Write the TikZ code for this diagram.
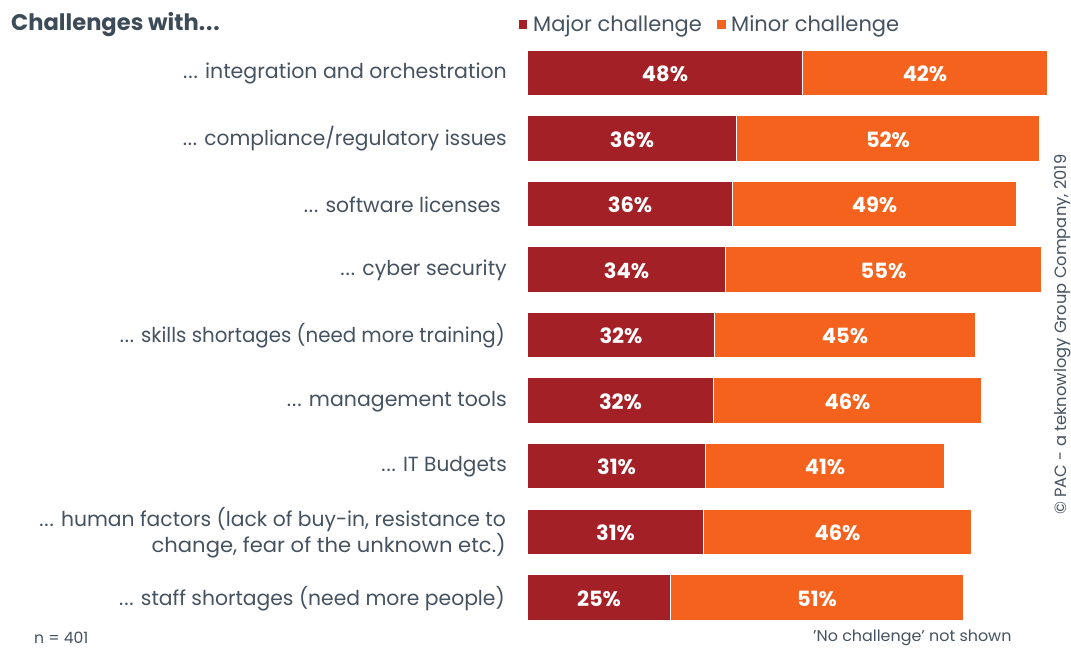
\documentclass[tikz,border=0pt]{standalone}
\usepackage{fontspec}
\setmainfont{Poppins}[Ligatures=NoCommon]
\definecolor{maj}{HTML}{A32027}
\definecolor{mnr}{HTML}{F4621D}
\definecolor{txt}{HTML}{45525F}
\definecolor{head}{HTML}{3D4A57}
\newcommand{\ddd}{.\kern0.9pt.\kern0.9pt.}
\newcommand{\sx}[2]{\scalebox{#1}[1]{#2}}
\tikzset{
  lbl/.style={anchor=east,align=right,text=txt,inner sep=0pt,font=\fontsize{20.5}{26}\selectfont},
  barbox/.style={anchor=north west,inner sep=0pt,outer sep=0pt,text=white,text height=17pt,text depth=0pt,font=\fontsize{21}{24}\selectfont\bfseries},
  small/.style={anchor=west,inner sep=0pt,text=txt,font=\fontsize{15.6}{18}\selectfont},
  legendtxt/.style={anchor=west,inner sep=0pt,text=txt,font=\fontsize{21}{24}\selectfont},
}
\begin{document}
\begin{tikzpicture}[x=1pt,y=-1pt]
\useasboundingbox (0,0) rectangle (1071,648);
\node[anchor=west,inner sep=0pt,text=head,font=\fontsize{22.6}{26}\selectfont\bfseries] (title) at (11,25) {Challenges with\ddd};
\fill[maj] (519,20) rectangle (527,29);
\node[legendtxt] (lmaj) at (533,26) {Major challenge};
\fill[mnr] (717,20) rectangle (726,29);
\node[legendtxt] (lmin) at (731,26) {Minor challenge};
\foreach \n/\t/\b/\s/\e/\p/\q in {
 1/51/95/802/1047/48/42,
 2/116/161/736/1039/36/52,
 3/182/226/732/1016/36/49,
 4/247/292/725/1041/34/55,
 5/313/357/714/975/32/45,
 6/378/423/713/981/32/46,
 7/444/488/705/944/31/41,
 8/510/554/703/971/31/46,
 9/575/620/670/963/25/51}{
  \pgfmathsetmacro{\wa}{\s-528}
  \pgfmathsetmacro{\wb}{\e-\s-1}
  \pgfmathsetmacro{\hh}{\b-\t}
  \node[barbox,fill=maj,minimum width=\wa pt,minimum height=\hh pt] (a\n) at (528,\t) {\p\%};
  \node[barbox,fill=mnr,minimum width=\wb pt,minimum height=\hh pt] (b\n) at (\s+1,\t) {\q\%};
}
\node[lbl] (c1) at (507,73) {\ddd{} integration and orchestration};
\node[lbl] (c2) at (507,139) {\sx{0.985}{\ddd{} compliance/regulatory issues}};
\node[lbl] (c3) at (501,205) {\sx{0.99}{\ddd{} software licenses}};
\node[lbl] (c4) at (507,270) {\ddd{} cyber security};
\node[lbl] (c5) at (505,336) {\sx{0.965}{\ddd{} skills shortages (need more training)}};
\node[lbl] (c6) at (507,402) {\ddd{} management tools};
\node[lbl] (c7) at (507,467) {\sx{0.98}{\ddd{} IT Budgets}};
\node[lbl] (c8) at (506,533) {\sx{0.99}{\ddd{} human factors (lack of buy-in, resistance to}\\\sx{1.03}{change, fear of the unknown etc.)}};
\node[lbl] (c9) at (505,599) {\sx{0.99}{\ddd{} staff shortages (need more people)}};
\node[small] (n) at (34,638) {n = 401};
\node[small] (nc) at (813,638) {\sx{1.02}{\char"27 No challenge\char"27{} not shown}};
\node[small,rotate=90,anchor=west,font=\fontsize{16.3}{18}\selectfont] (cp) at (1063,515) {© PAC - a teknowlogy Group Company, 2019};
\end{tikzpicture}
\end{document}
